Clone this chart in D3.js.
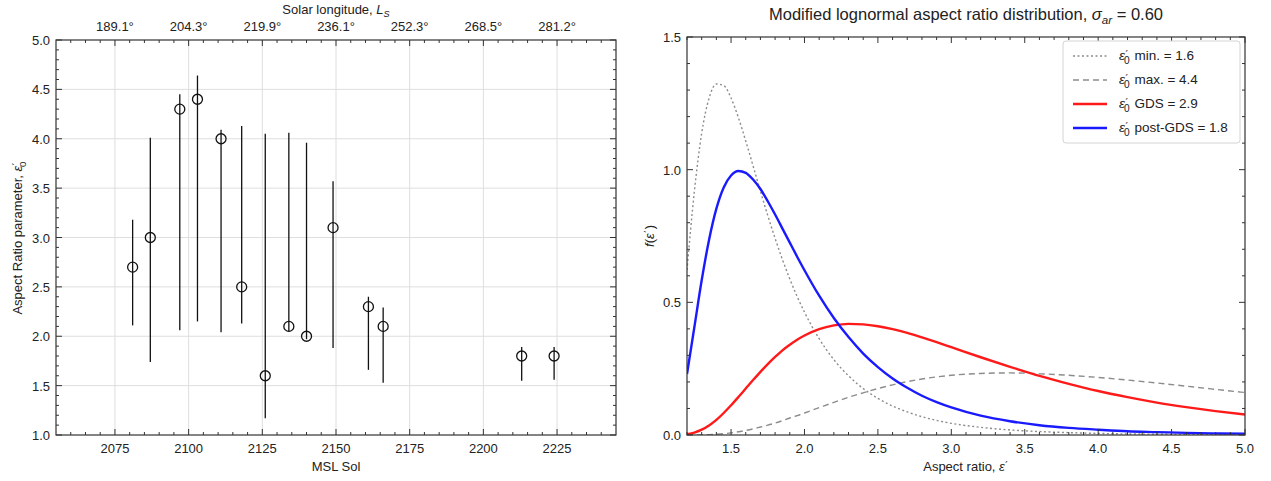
<html>
<head>
    <script src="https://d3js.org/d3.v7.min.js"></script>
    <style>
        body { margin: 0; background: white; }
        text { font-family: "Liberation Sans", Arial, sans-serif; fill: #222; }
    </style>
</head>
<body>
    <svg id="chart" width="1271" height="481"></svg>

    <script>
    // left panel data: aspect ratio parameter per MSL sol, with error bar ends
    const sols = [2081, 2087, 2097, 2103, 2111, 2118, 2126, 2134, 2140, 2149, 2161, 2166, 2213, 2224];
    const aspect = [2.7, 3.0, 4.3, 4.4, 4.0, 2.5, 1.6, 2.1, 2.0, 3.1, 2.3, 2.1, 1.8, 1.8];
    const errLow = [2.11, 1.74, 2.06, 2.15, 2.04, 2.13, 1.17, 2.05, 1.97, 1.88, 1.66, 1.53, 1.55, 1.56];
    const errHigh = [3.18, 4.01, 4.45, 4.64, 4.09, 4.13, 4.05, 4.06, 3.96, 3.57, 2.40, 2.29, 1.89, 1.89];

    const solTicks = [2075, 2100, 2125, 2150, 2175, 2200, 2225];
    const lsLabels = ["189.1°", "204.3°", "219.9°", "236.1°", "252.3°", "268.5°", "281.2°"];

    // right panel data: f(eps')
    const eps = [1.2, 1.25, 1.3, 1.35, 1.4, 1.45, 1.5, 1.55, 1.6, 1.65, 1.7, 1.75, 1.8, 1.85, 1.9, 1.95, 2.0,
                 2.1, 2.2, 2.3, 2.4, 2.5, 2.6, 2.7, 2.8, 2.9, 3.0, 3.2, 3.4, 3.6, 3.8, 4.0, 4.2, 4.4, 4.6, 4.8, 5.0];
    const fMin = [0.622, 0.917, 1.137, 1.269, 1.323, 1.317, 1.270, 1.196, 1.108, 1.014, 0.919, 0.827, 0.741, 0.661, 0.588, 0.522, 0.463,
                  0.363, 0.284, 0.223, 0.175, 0.138, 0.109, 0.087, 0.069, 0.055, 0.044, 0.029, 0.019, 0.013, 0.009, 0.006, 0.004, 0.003, 0.002, 0.0015, 0.001];
    const fMax = [0.0001, 0.0002, 0.0006, 0.0014, 0.0029, 0.005, 0.008, 0.012, 0.017, 0.023, 0.030, 0.037, 0.045, 0.054, 0.064, 0.073, 0.083,
                  0.103, 0.123, 0.142, 0.159, 0.175, 0.189, 0.201, 0.211, 0.219, 0.225, 0.232, 0.234, 0.231, 0.225, 0.217, 0.207, 0.196, 0.184, 0.172, 0.160];
    const fGds = [0.003, 0.009, 0.020, 0.036, 0.057, 0.083, 0.112, 0.143, 0.175, 0.207, 0.238, 0.267, 0.294, 0.319, 0.340, 0.359, 0.375,
                  0.399, 0.413, 0.419, 0.417, 0.410, 0.399, 0.385, 0.368, 0.350, 0.331, 0.293, 0.257, 0.223, 0.193, 0.166, 0.143, 0.122, 0.105, 0.090, 0.077];
    const fPost = [0.230, 0.406, 0.583, 0.735, 0.853, 0.933, 0.978, 0.995, 0.988, 0.963, 0.927, 0.881, 0.831, 0.778, 0.725, 0.672, 0.621,
                   0.525, 0.441, 0.369, 0.307, 0.256, 0.213, 0.178, 0.148, 0.124, 0.104, 0.073, 0.052, 0.037, 0.027, 0.020, 0.014, 0.011, 0.008, 0.006, 0.005];

    const seriesNames = ["min. = 1.6", "max. = 4.4", "GDS = 2.9", "post-GDS = 1.8"];
    const seriesColors = ["#8c8c8c", "#8c8c8c", "#ff1a1a", "#1a1aff"];
    const seriesDash = ["2,2.5", "6,4", null, null];
    const seriesWidth = [1.4, 1.4, 2.4, 2.4];
    const seriesValues = [fMin, fMax, fGds, fPost];

    const svg = d3.select("#chart");

    // writes eps'_0 (or eps') with italic epsilon
    function epsText(sel, sub) {
        sel.append("tspan").attr("font-style", "italic").text("ε");
        sel.append("tspan").attr("font-family", "DejaVu Sans").attr("font-size", "0.8em").attr("dx", 0.5).attr("dy", -2).text("′");
        if (sub) {
            sel.append("tspan").attr("font-size", "0.75em").attr("dx", -4).attr("dy", 6).text("0");
            sel.append("tspan").attr("dy", -4).text("\u200a");
        } else {
            sel.append("tspan").attr("dy", 2).text("\u200a");
        }
    }

    // draws frame with inward ticks on all four sides
    function frame(g, x, y, xMajor, xMinor, yMajor, yMinor) {
        const [x0, x1] = x.range();
        const [y0, y1] = y.range();
        const t = g.append("g").attr("stroke", "#333").attr("stroke-width", 1);
        const tick = (vals, len, side) => {
            vals.forEach(v => {
                if (side === "b") t.append("line").attr("x1", x(v)).attr("x2", x(v)).attr("y1", y0).attr("y2", y0 - len);
                if (side === "t") t.append("line").attr("x1", x(v)).attr("x2", x(v)).attr("y1", y1).attr("y2", y1 + len);
                if (side === "l") t.append("line").attr("y1", y(v)).attr("y2", y(v)).attr("x1", x0).attr("x2", x0 + len);
                if (side === "r") t.append("line").attr("y1", y(v)).attr("y2", y(v)).attr("x1", x1).attr("x2", x1 - len);
            });
        };
        tick(xMajor, 6, "b"); tick(xMinor, 3, "b");
        tick(xMajor, 6, "t"); tick(xMinor, 3, "t");
        tick(yMajor, 6, "l"); tick(yMinor, 3, "l");
        tick(yMajor, 6, "r"); tick(yMinor, 3, "r");
        g.append("rect").attr("x", x0).attr("y", y1).attr("width", x1 - x0).attr("height", y0 - y1)
            .attr("fill", "none").attr("stroke", "#333").attr("stroke-width", 1.2);
    }

    // ---------- left panel ----------
    const xL = d3.scaleLinear().domain([2055, 2245]).range([56, 616]);
    const yL = d3.scaleLinear().domain([1.0, 5.0]).range([435, 40]);
    const left = svg.append("g");

    const yLTicks = d3.range(1.0, 5.01, 0.5);
    const yLMinor = d3.range(1.1, 5.0, 0.1).filter(v => Math.abs(v * 2 - Math.round(v * 2)) > 0.01);
    const xLMinor = d3.range(2060, 2245, 5).filter(v => v % 25 !== 0);

    // grid
    left.append("g").selectAll("line").data(solTicks).join("line")
        .attr("x1", d => xL(d)).attr("x2", d => xL(d)).attr("y1", yL(1)).attr("y2", yL(5))
        .attr("stroke", "#dedede").attr("stroke-width", 1);
    left.append("g").selectAll("line").data(yLTicks.slice(1, -1)).join("line")
        .attr("y1", d => yL(d)).attr("y2", d => yL(d)).attr("x1", 56).attr("x2", 616)
        .attr("stroke", "#dedede").attr("stroke-width", 1);

    // error bars + open circles
    left.append("g").selectAll("line").data(sols).join("line")
        .attr("x1", d => xL(d)).attr("x2", d => xL(d))
        .attr("y1", (d, i) => yL(errLow[i])).attr("y2", (d, i) => yL(errHigh[i]))
        .attr("stroke", "#111").attr("stroke-width", 1.3);
    left.append("g").selectAll("circle").data(sols).join("circle")
        .attr("cx", d => xL(d)).attr("cy", (d, i) => yL(aspect[i])).attr("r", 5)
        .attr("fill", "none").attr("stroke", "#111").attr("stroke-width", 1.3);

    frame(left, xL, yL, solTicks, xLMinor, yLTicks, yLMinor);

    // tick labels
    left.append("g").selectAll("text").data(solTicks).join("text")
        .attr("x", d => xL(d)).attr("y", 453).attr("text-anchor", "middle").attr("font-size", 13)
        .text(d => d);
    left.append("g").selectAll("text").data(lsLabels).join("text")
        .attr("x", (d, i) => xL(solTicks[i])).attr("y", 31).attr("text-anchor", "middle").attr("font-size", 13)
        .text(d => d);
    left.append("g").selectAll("text").data(yLTicks).join("text")
        .attr("x", 50).attr("y", d => yL(d) + 5).attr("text-anchor", "end").attr("font-size", 13)
        .text(d => d.toFixed(1));

    left.append("text").attr("x", xL(2150)).attr("y", 471).attr("text-anchor", "middle").attr("font-size", 13)
        .text("MSL Sol");
    const lsTitle = left.append("text").attr("x", xL(2150)).attr("y", 14).attr("text-anchor", "middle").attr("font-size", 13);
    lsTitle.append("tspan").text("Solar longitude, ");
    lsTitle.append("tspan").attr("font-style", "italic").text("L");
    lsTitle.append("tspan").attr("font-style", "italic").attr("font-size", "0.7em").attr("dy", 3).text("S");

    const yLabL = left.append("text").attr("transform", "translate(22," + yL(3) + ") rotate(-90)")
        .attr("text-anchor", "middle").attr("font-size", 13);
    yLabL.append("tspan").text("Aspect Ratio parameter, ");
    epsText(yLabL, true);

    // ---------- right panel ----------
    const xR = d3.scaleLinear().domain([1.2, 5.0]).range([687, 1245]);
    const yR = d3.scaleLinear().domain([0, 1.5]).range([435, 37]);
    const right = svg.append("g");

    const xRTicks = d3.range(1.5, 5.01, 0.5);
    const xRMinor = d3.range(1.2, 5.0, 0.1).filter(v => Math.abs(v * 2 - Math.round(v * 2)) > 0.01);
    const yRTicks = [0, 0.5, 1.0, 1.5];
    const yRMinor = d3.range(0.1, 1.5, 0.1).filter(v => Math.abs(v * 2 - Math.round(v * 2)) > 0.01);

    const line = d3.line().x((d, i) => xR(eps[i])).y(d => yR(d)).curve(d3.curveMonotoneX);
    right.append("clipPath").attr("id", "clipR").append("rect")
        .attr("x", 687).attr("y", 37).attr("width", 558).attr("height", 398);

    right.append("g").attr("clip-path", "url(#clipR)").selectAll("path").data(seriesValues).join("path")
        .attr("d", d => line(d))
        .attr("fill", "none")
        .attr("stroke", (d, i) => seriesColors[i])
        .attr("stroke-width", (d, i) => seriesWidth[i])
        .attr("stroke-dasharray", (d, i) => seriesDash[i]);

    frame(right, xR, yR, xRTicks, xRMinor, yRTicks, yRMinor);

    right.append("g").selectAll("text").data(xRTicks).join("text")
        .attr("x", d => xR(d)).attr("y", 453).attr("text-anchor", "middle").attr("font-size", 13)
        .text(d => d.toFixed(1));
    right.append("g").selectAll("text").data(yRTicks).join("text")
        .attr("x", 681).attr("y", d => yR(d) + 5).attr("text-anchor", "end").attr("font-size", 13)
        .text(d => d.toFixed(1));

    const xLabR = right.append("text").attr("x", xR(3.1)).attr("y", 471).attr("text-anchor", "middle").attr("font-size", 13);
    xLabR.append("tspan").text("Aspect ratio, ");
    epsText(xLabR, false);

    const yLabR = right.append("text").attr("transform", "translate(654," + yR(0.75) + ") rotate(-90)")
        .attr("text-anchor", "middle").attr("font-size", 13);
    yLabR.append("tspan").attr("font-style", "italic").text("f");
    yLabR.append("tspan").text("(");
    epsText(yLabR, false);
    yLabR.append("tspan").text(")");

    const title = right.append("text").attr("x", xR(3.1)).attr("y", 20).attr("text-anchor", "middle").attr("font-size", 16.5);
    title.append("tspan").text("Modified lognormal aspect ratio distribution, ");
    title.append("tspan").attr("font-style", "italic").text("σ");
    title.append("tspan").attr("font-style", "italic").attr("font-size", "0.7em").attr("dy", 4).text("ar");
    title.append("tspan").attr("dy", -4).text(" = 0.60");

    // legend
    const leg = right.append("g").attr("transform", "translate(1063,41)");
    leg.append("rect").attr("width", 177).attr("height", 102).attr("rx", 3)
        .attr("fill", "white").attr("stroke", "#d4d4d4");
    seriesNames.forEach((name, i) => {
        const yy = 15 + i * 24;
        leg.append("line").attr("x1", 10).attr("x2", 44).attr("y1", yy).attr("y2", yy)
            .attr("stroke", seriesColors[i]).attr("stroke-width", seriesWidth[i])
            .attr("stroke-dasharray", seriesDash[i]);
        const t = leg.append("text").attr("x", 56).attr("y", yy + 4).attr("font-size", 13.5);
        epsText(t, true);
        t.append("tspan").text(" " + name);
    });
    </script>
</body>
</html>
